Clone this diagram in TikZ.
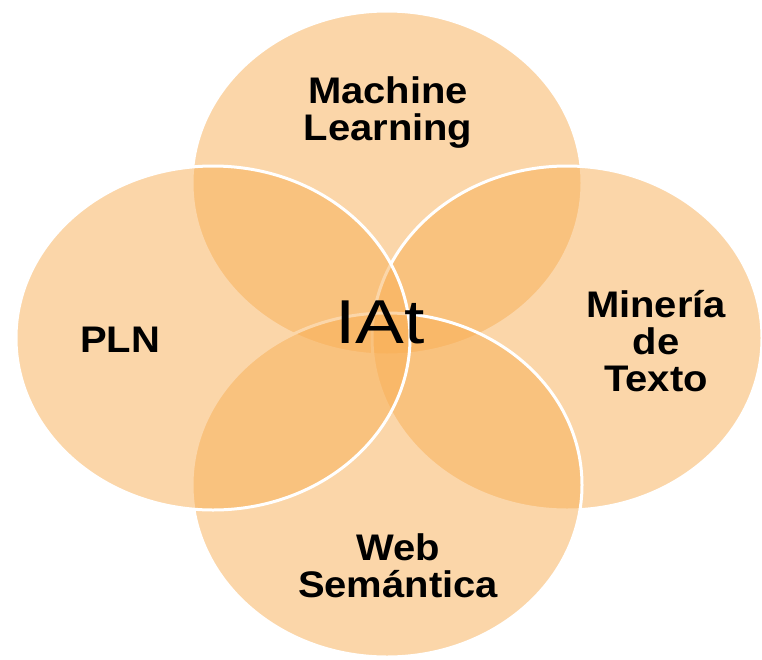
\documentclass[tikz,border=0pt]{standalone}
\usepackage{fontspec}
\setmainfont{Liberation Sans}
\newfontfamily\labfont[FakeStretch=1.08]{Liberation Sans}
\newfontfamily\centrefont[FakeStretch=1.18]{Liberation Sans}
\definecolor{petal}{RGB}{249,175,85}
\tikzset{
  petal/.style={fill=petal, fill opacity=0.5, draw=white, line width=3pt},
  lab/.style={font=\labfont\bfseries\fontsize{37}{37}\selectfont, align=center, inner sep=0pt, text=black},
  centrelab/.style={font=\centrefont\fontsize{62}{62}\selectfont, inner sep=0pt, text=black}
}
\begin{document}
\begin{tikzpicture}[x=1pt,y=-1pt]
\useasboundingbox (0,0) rectangle (762,659);
\fill[white] (0,0) rectangle (762,659);
% circles in drawing order: top, right, bottom, left
\path[petal] (387,183) ellipse [x radius=195, y radius=172];
\path[petal] (567,338) ellipse [x radius=195, y radius=172];
\path[petal] (387,485) ellipse [x radius=195, y radius=172];
\path[petal] (213,338) ellipse [x radius=197, y radius=172];
% labels
\node[lab] (ml) at (388,113) {Machine\\Learning};
\node[lab] (pln) at (120,340) {PLN};
\node[lab] (mt) at (656,341) {Minería\\de\\Texto};
\node[lab] (ws) at (398,566) {Web\\Semántica};
\node[centrelab] (iat) at (380,322) {IAt};
\end{tikzpicture}
\end{document}
